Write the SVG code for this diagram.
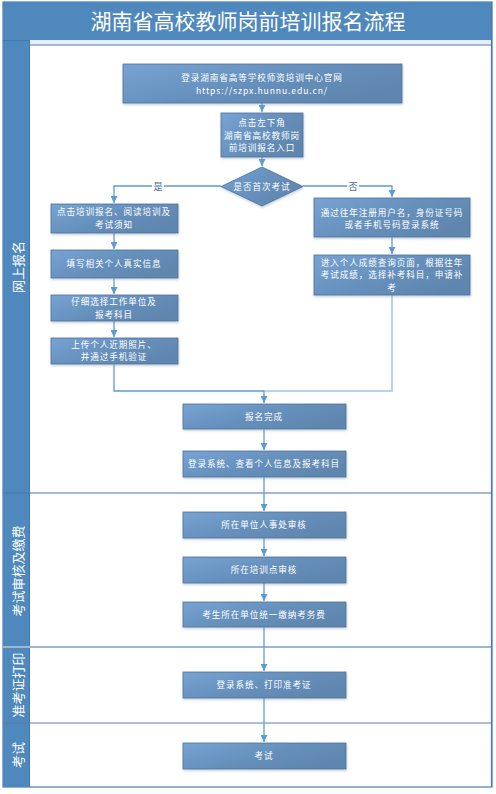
<svg xmlns="http://www.w3.org/2000/svg" width="496" height="794" viewBox="0 0 496 794">
<style>
.box{fill:url(#g);stroke:#4d7299;stroke-width:0.8;filter:url(#sh)}
.t{font-family:"Noto Sans CJK SC","Liberation Sans",sans-serif;font-size:8.6px;letter-spacing:0.9px;fill:#fff;text-anchor:middle}
.lane{font-family:"Noto Sans CJK SC","Liberation Sans",sans-serif;font-size:13px;fill:#fff;text-anchor:middle}
.c{fill:none;stroke:#5b9bd5;stroke-width:1.3}
.c2{fill:none;stroke:#9fc5e8;stroke-width:1.5}
.lbl{font-family:"Noto Sans CJK SC","Liberation Sans",sans-serif;font-size:9.5px;fill:#4a6f96;text-anchor:middle}
</style>
<defs>
<linearGradient id="g" x1="0" y1="0" x2="1" y2="0.6">
<stop offset="0" stop-color="#77a3d3"/>
<stop offset="0.55" stop-color="#6690bc"/>
<stop offset="1" stop-color="#5f86ae"/>
</linearGradient>
<filter id="sh" x="-10%" y="-20%" width="120%" height="150%">
<feDropShadow dx="0.5" dy="1.5" stdDeviation="1" flood-color="#8aa0b8" flood-opacity="0.5"/>
</filter>
<marker id="a" markerWidth="8" markerHeight="7" refX="7" refY="3.5" orient="auto" markerUnits="userSpaceOnUse">
<path d="M0,0 L7,3.5 L0,7 z" fill="#5b9bd5"/>
</marker>
</defs>

<g id="frame">
<rect x="3" y="2" width="489" height="785" fill="#fff" stroke="#4a7ab0" stroke-width="1.2"/>
<rect x="3" y="2" width="489" height="38" fill="#4f88bc"/>
<text x="248" y="29" font-family="Noto Sans CJK SC, Liberation Sans, sans-serif" font-size="21" fill="#fff" text-anchor="middle">湖南省高校教师岗前培训报名流程</text>
<rect x="30" y="40" width="462" height="4.5" fill="#e6edf6"/>
<line x1="30" y1="45" x2="492" y2="45" stroke="#4a7ab0" stroke-width="1"/>
<rect x="3" y="40" width="27" height="747" fill="#4f88bc"/>
<line x1="29.5" y1="40" x2="29.5" y2="787" stroke="#4678ac" stroke-width="1"/>
<line x1="3" y1="40.5" x2="30" y2="40.5" stroke="#4578ab" stroke-width="1"/>
<line x1="3" y1="493" x2="492" y2="493" stroke="#4a76a8" stroke-width="1"/>
<line x1="3" y1="647" x2="492" y2="647" stroke="#9db7d0" stroke-width="2"/>
<line x1="3" y1="723" x2="492" y2="723" stroke="#5b7fa6" stroke-width="1"/>
<line x1="491.5" y1="2" x2="491.5" y2="787" stroke="#4a7ab0" stroke-width="1.2"/>
<text class="lane" transform="translate(17,267) rotate(-90)" dominant-baseline="central">网上报名</text>
<text class="lane" transform="translate(17,571) rotate(-90)" dominant-baseline="central">考试审核及缴费</text>
<text class="lane" transform="translate(17,685) rotate(-90)" dominant-baseline="central">准考证打印</text>
<text class="lane" transform="translate(17,755) rotate(-90)" dominant-baseline="central">考试</text>
</g>

<g id="connectors">
<path class="c" d="M262,103 V112" marker-end="url(#a)"/>
<path class="c" d="M262,157 V166" marker-end="url(#a)"/>
<path class="c" d="M221,186 H114 V203" marker-end="url(#a)"/>
<path class="c" d="M303,186 H392 V197" marker-end="url(#a)"/>
<path class="c" d="M114,233 V249" marker-end="url(#a)"/>
<path class="c" d="M114,278 V294" marker-end="url(#a)"/>
<path class="c" d="M114,321 V337" marker-end="url(#a)"/>
<path class="c" d="M392,237 V254" marker-end="url(#a)"/>
<path class="c" d="M114,364 V391 H264"/>
<path class="c2" d="M392,295 V391 H264"/>
<path class="c" d="M264,391 V403" marker-end="url(#a)"/>
<path class="c" d="M264,429 V450" marker-end="url(#a)"/>
<path class="c" d="M264,477 V511" marker-end="url(#a)"/>
<path class="c" d="M264,538 V556" marker-end="url(#a)"/>
<path class="c" d="M264,583 V601" marker-end="url(#a)"/>
<path class="c" d="M264,627 V671" marker-end="url(#a)"/>
<path class="c" d="M264,698 V742" marker-end="url(#a)"/>
<rect x="152" y="180" width="12" height="12" fill="#fff"/>
<text class="lbl" x="158" y="190">是</text>
<rect x="347" y="180" width="12" height="12" fill="#fff"/>
<text class="lbl" x="353" y="190">否</text>
</g>

<g id="n1"><rect class="box" x="123" y="64" width="279" height="39"/>
<text class="t" x="262" y="81">登录湖南省高等学校师资培训中心官网</text>
<text class="t" x="262" y="94">https://szpx.hunnu.edu.cn/</text></g>

<g id="n2"><rect class="box" x="221" y="113" width="82" height="44"/>
<text class="t" x="262" y="126">点击左下角</text>
<text class="t" x="262" y="138.5">湖南省高校教师岗</text>
<text class="t" x="262" y="151">前培训报名入口</text></g>

<g id="n3"><path class="box" d="M262,167 L303,186.5 L262,206 L221,186.5 z"/>
<text class="t" x="262" y="189.5">是否首次考试</text></g>

<g id="n4"><rect class="box" x="51" y="204" width="127" height="29"/>
<text class="t" x="114" y="215">点击培训报名、阅读培训及</text>
<text class="t" x="114" y="227.5">考试须知</text></g>

<g id="n5"><rect class="box" x="51" y="250" width="127" height="28"/>
<text class="t" x="114" y="267">填写相关个人真实信息</text></g>

<g id="n6"><rect class="box" x="51" y="295" width="127" height="26"/>
<text class="t" x="114" y="305">仔细选择工作单位及</text>
<text class="t" x="114" y="317.5">报考科目</text></g>

<g id="n7"><rect class="box" x="51" y="338" width="127" height="26"/>
<text class="t" x="114" y="347.5">上传个人近期照片、</text>
<text class="t" x="114" y="360">并通过手机验证</text></g>

<g id="n8"><rect class="box" x="314" y="198" width="156" height="39"/>
<text class="t" x="392" y="215.5">通过往年注册用户名，身份证号码</text>
<text class="t" x="392" y="228">或者手机号码登录系统</text></g>

<g id="n9"><rect class="box" x="314" y="255" width="156" height="40"/>
<text class="t" x="392" y="265.5">进入个人成绩查询页面，根据往年</text>
<text class="t" x="392" y="278">考试成绩，选择补考科目，申请补</text>
<text class="t" x="392" y="290.5">考</text></g>

<g id="n10"><rect class="box" x="183" y="404" width="163" height="25"/>
<text class="t" x="264" y="419.5">报名完成</text></g>

<g id="n11"><rect class="box" x="183" y="451" width="163" height="26"/>
<text class="t" x="264" y="467">登录系统、查看个人信息及报考科目</text></g>

<g id="n12"><rect class="box" x="183" y="512" width="163" height="26"/>
<text class="t" x="264" y="528">所在单位人事处审核</text></g>

<g id="n13"><rect class="box" x="183" y="557" width="163" height="26"/>
<text class="t" x="264" y="573">所在培训点审核</text></g>

<g id="n14"><rect class="box" x="183" y="602" width="163" height="25"/>
<text class="t" x="264" y="617.5">考生所在单位统一缴纳考务费</text></g>

<g id="n15"><rect class="box" x="183" y="672" width="163" height="26"/>
<text class="t" x="264" y="688">登录系统、打印准考证</text></g>

<g id="n16"><rect class="box" x="183" y="743" width="163" height="26"/>
<text class="t" x="264" y="759">考试</text></g>
</svg>
